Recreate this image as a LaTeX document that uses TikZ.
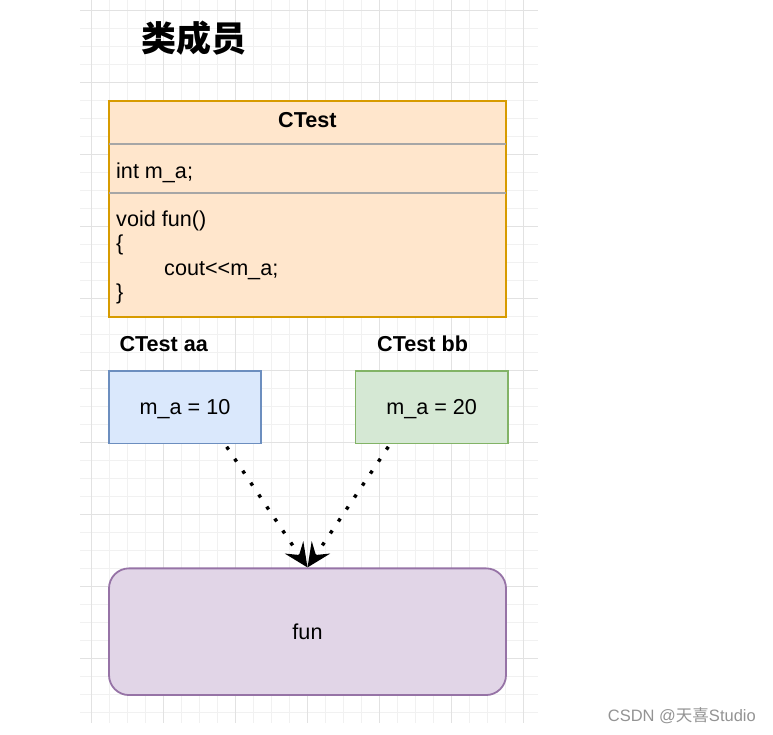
\documentclass[tikz,border=0pt]{standalone}
\usepackage{fontspec}
\setmainfont{Liberation Sans}
\newfontfamily\cjk{Noto Sans CJK SC}
\usetikzlibrary{arrows.meta,calc,positioning}

\definecolor{classfill}{HTML}{FFE6CC}
\definecolor{classline}{HTML}{D79B00}
\definecolor{bluefill}{HTML}{DAE8FC}
\definecolor{blueline}{HTML}{6C8EBF}
\definecolor{greenfill}{HTML}{D5E8D4}
\definecolor{greenline}{HTML}{82B366}
\definecolor{funfill}{HTML}{E1D5E7}
\definecolor{funline}{HTML}{9673A6}
\definecolor{gridminor}{HTML}{F1F1F1}
\definecolor{gridmajor}{HTML}{E2E2E2}

\tikzset{
    txt/.style={inner sep=0pt, font=\fontsize{21.6}{26}\selectfont},
    objbox/.style={draw, line width=1.8pt, minimum width=152.6pt, minimum height=72.4pt,
        text height=15.5pt, text depth=0pt, font=\fontsize{21.6}{26}\selectfont},
    dotarrow/.style={line width=3.4pt, dash pattern=on 3.4pt off 11pt,
        -{Stealth[length=24pt, width=22pt, inset=9pt]}, shorten <=3pt}
}

\begin{document}
\begin{tikzpicture}[x=1pt, y=-1pt]
            \useasboundingbox (0,0) rectangle (773,734);

            % background grid
            \foreach \x in {91.7,109.7,...,524} {
                \draw[gridminor, line width=1pt] (\x, 0) -- (\x, 723);
            }
            \foreach \y in {10.7,28.7,...,713} {
                \draw[gridminor, line width=1pt] (80, \y) -- (538, \y);
            }
            \foreach \x in {91.7,163.7,...,524} {
                \draw[gridmajor, line width=1pt] (\x, 0) -- (\x, 723);
            }
            \foreach \y in {10.7,82.7,...,713} {
                \draw[gridmajor, line width=1pt] (80, \y) -- (538, \y);
            }

            % title
            \node[inner sep=0pt, anchor=west, font=\cjk\bfseries\fontsize{35}{40}\selectfont] (title) at (141.7, 38.5) {类成员};

            % class CTest
            \node[draw=classline, fill=classfill, line width=1.8pt, minimum width=397.3pt, minimum height=215.7pt] (ctest) at (307.4, 208.9) {};
            \draw[gray!70, line width=1.8pt] ($(ctest.west |- 0,144.3)+(0.9,0)$) -- ($(ctest.east |- 0,144.3)+(-0.9,0)$);
            \draw[gray!70, line width=1.8pt] ($(ctest.west |- 0,192.7)+(0.9,0)$) -- ($(ctest.east |- 0,192.7)+(-0.9,0)$);
            \node[txt, font=\bfseries\fontsize{21.6}{26}\selectfont, anchor=base] (cname) at (307.4, 127.3) {CTest};
            \node[txt, anchor=base west] (member) at (116, 178.3) {int m\_a;};
            \foreach \n/\x/\y/\txt in {m1/116/226/void fun(), m2/116/250.5/\{, m3/164/275/cout{<}{<}m\_a;, m4/116/299.5/\}} {
                \node[txt, anchor=base west] (\n) at (\x, \y) {\txt};
            }

            % objects
            \node[txt, font=\bfseries\fontsize{21.6}{26}\selectfont, anchor=base west] (aalabel) at (119.3, 351.7) {CTest aa};
            \node[txt, font=\bfseries\fontsize{21.6}{26}\selectfont, anchor=base west] (bblabel) at (377, 351.7) {CTest bb};
            \node[objbox, draw=blueline, fill=bluefill] (aa) at (185, 407.2) {m\_a = 10};
            \node[objbox, draw=greenline, fill=greenfill] (bb) at (431.7, 407.2) {m\_a = 20};

            % shared function
            \node[draw=funline, fill=funfill, line width=1.8pt, rounded corners=20pt, minimum width=397pt, minimum height=126.7pt,
                text height=15.5pt, text depth=0pt, font=\fontsize{21.6}{26}\selectfont] (fun) at (307.5, 631.7) {fun};

            % calls
            \draw[dotarrow] ([xshift=40pt]aa.south) -- (fun.north);
            \draw[dotarrow] ([xshift=-41.7pt]bb.south) -- (fun.north);

            % watermark
            \node[inner sep=0pt, anchor=base west, text=gray!85, font=\fontsize{16.5}{20}\selectfont] (mark) at (607.7, 721.7) {CSDN @{\cjk 天喜}Studio};

\end{tikzpicture}
\end{document}
